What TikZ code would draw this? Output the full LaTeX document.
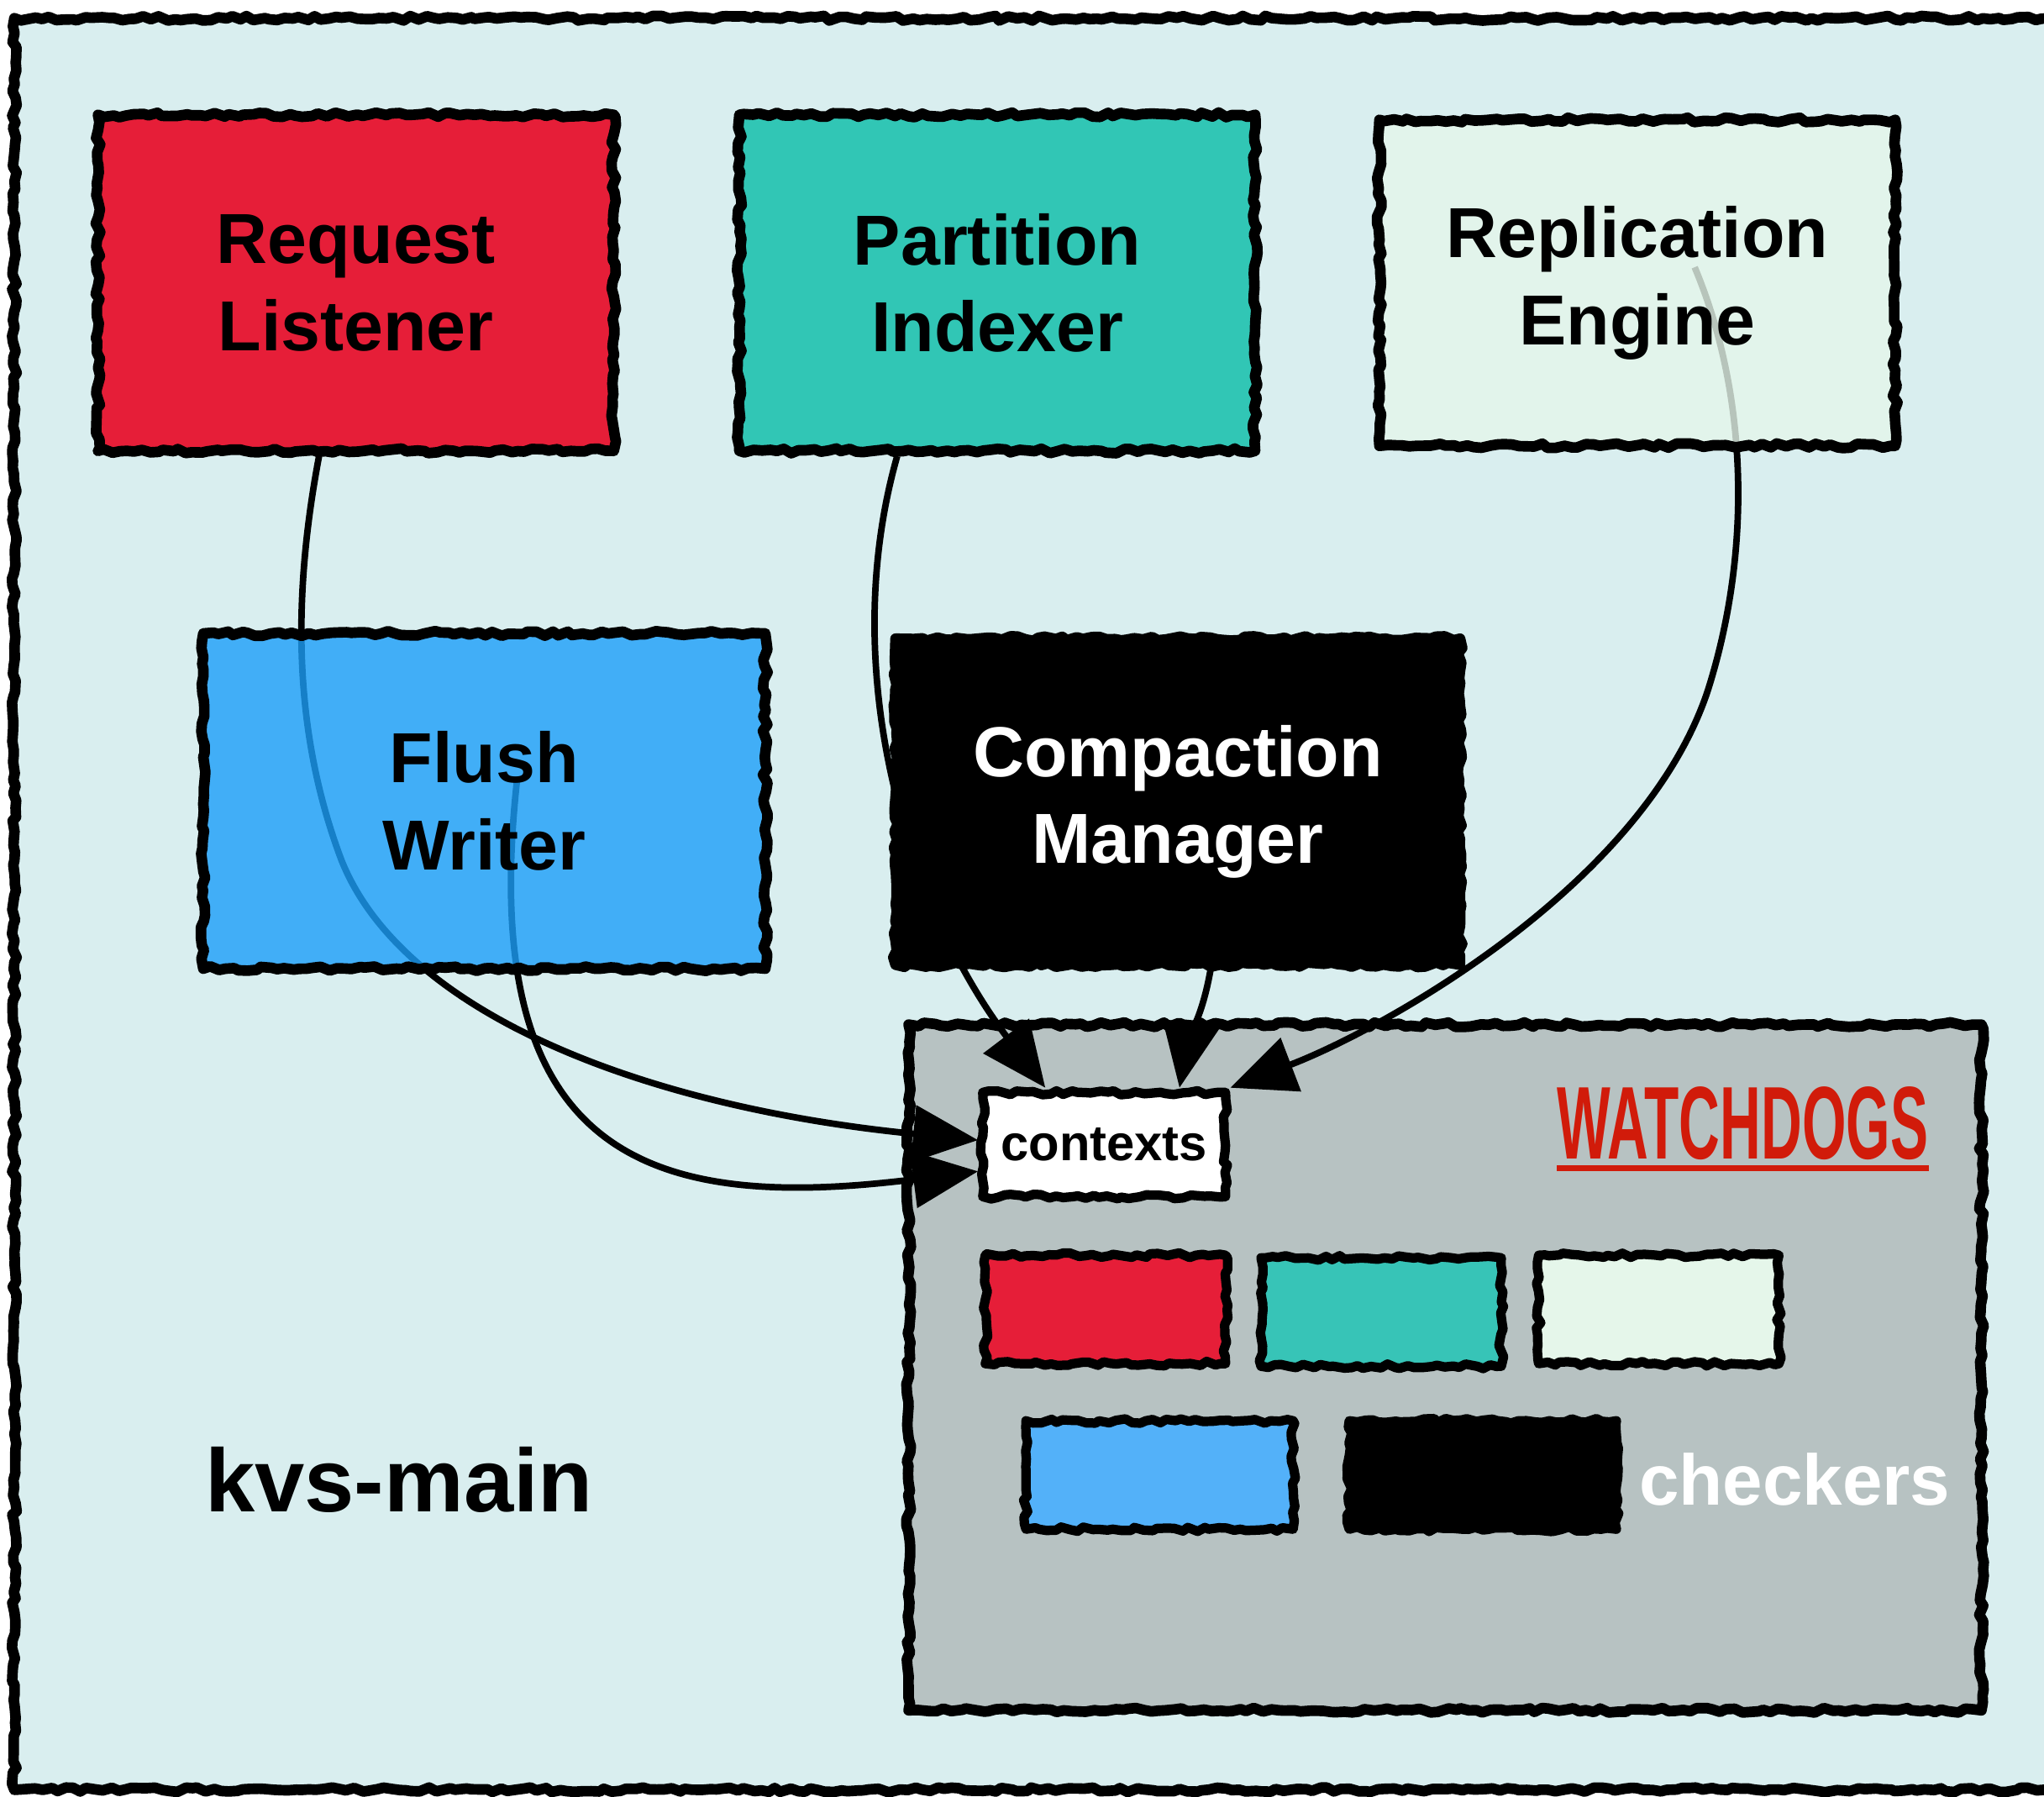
\documentclass[tikz,border=0pt]{standalone}
\usepackage{fontspec}
\usepackage{graphicx}
\setmainfont{Liberation Sans}
\usetikzlibrary{arrows.meta, decorations.pathmorphing, positioning, calc}
\definecolor{bgcyan}{RGB}{217,238,239}
\definecolor{panelgray}{RGB}{183,194,194}
\definecolor{reqred}{RGB}{230,30,56}
\definecolor{partteal}{RGB}{49,198,181}
\definecolor{replpale}{RGB}{229,246,234}
\definecolor{flushblueT}{RGB}{28,159,249}
\definecolor{wdred}{RGB}{209,27,10}
\definecolor{chkteal}{RGB}{55,196,183}
\definecolor{chkblue}{RGB}{83,177,249}
\pgfdeclarelayer{back}
\pgfdeclarelayer{wires}
\pgfsetlayers{back,wires,main}
\tikzset{
  rough/.style={decorate, line join=round,
    decoration={random steps, segment length=2.5pt, amplitude=0.8pt}},
  compbox/.style={
    rectangle, draw=black, line width=3.6pt, rough, align=center, inner sep=0pt,
    minimum width=6.14cm, minimum height=4cm, font=\fontsize{24}{29.5}\selectfont\bfseries
  },
  seethru/.style={fill opacity=0.8, text opacity=1},
  chkbox/.style={rectangle, draw=black, line width=3.2pt, rough, inner sep=0pt,
    minimum width=2.86cm, minimum height=1.29cm},
  wire/.style={-{Triangle[length=22pt, width=19pt]}, line width=2.2pt, black}
}

\begin{document}
\begin{tikzpicture}[x=0.015517cm, y=-0.015517cm]
    \pgfmathsetseed{42}
    \useasboundingbox (0,0) rectangle (1568,1378);
    \clip (0,0) rectangle (1568,1378);
    \begin{pgfonlayer}{back}
    \fill[white] (0,0) rectangle (1568,1378);
    \draw[rough, line width=3.6pt, fill=bgcyan] (11,14) rectangle (1600,1373);
    \draw[rough, line width=3.6pt, fill=panelgray] (697,786) rectangle (1520,1312);
    \node[chkbox, fill=white, minimum width=2.89cm, minimum height=1.24cm,
      font=\fontsize{17}{20}\selectfont\bfseries] (ctx) at (847,878) {contexts};
    \node[text=wdred, inner sep=0pt, font=\fontsize{34}{34}\selectfont\bfseries] (wd) at (1337,862) {\scalebox{0.565}[1.03]{WATCHDOGS}};
    \draw[wdred, line width=1.8pt] ([yshift=-2.5pt]wd.south west) -- ([yshift=-2.5pt]wd.south east);
    % checkers
    \node[chkbox, fill=reqred] (wdrl) at (848,1004.5) {};
    \node[chkbox, fill=chkteal] (wdpi) at (1059.5,1006.5) {};
    \node[chkbox, fill=replpale] (wdre) at (1272.5,1004.5) {};
    \node[chkbox, fill=chkblue, minimum width=3.18cm] (wdfw) at (889.5,1131.5) {};
    \node[chkbox, fill=black, minimum width=3.18cm] (wdcm) at (1137.5,1131.5) {};
    \node[anchor=west, inner sep=0pt, text=white, font=\fontsize{24.3}{24}\selectfont\bfseries] (chk) at (1257,1135) {checkers};
    \node[anchor=west, inner sep=0pt, font=\fontsize{30.3}{30}\selectfont\bfseries] (kvs) at (157,1135) {kvs-main};
    \end{pgfonlayer}

    \node[compbox, fill=reqred] (rl) at (273,217) {Request\\Listener};
    \node[compbox, fill=partteal] (pi) at (765,217) {Partition\\Indexer};
    \node[compbox, seethru, fill=replpale, minimum height=3.88cm] (re) at (1256,217) {Replication\\Engine};
    \node[compbox, seethru, fill=flushblueT, minimum width=6.69cm, minimum height=3.99cm] (fw) at (371.5,614.5) {Flush\\Writer};
    \node[compbox, fill=black, text=white, minimum width=6.72cm, minimum height=3.88cm] (cm) at (903.5,615) {Compaction\\Manager};

    \begin{pgfonlayer}{wires}
    \draw[wire] (rl.258) .. controls (222,470) and (228,570) .. (262,660)
      .. controls (310,780) and (500,850) .. (ctx.178);
    \draw[wire] ([shift={(25,-15)}]fw.center) .. controls (365,890) and (500,930) .. (ctx.192);
    \draw[wire] (pi.240) .. controls (640,520) and (700,700) .. (ctx.136);
    \draw[wire] (cm.281) to[out=-100, in=80] (ctx.37);
    \draw[wire] ([shift={(44,-12)}]re.center) .. controls (1340,300) and (1345,420) .. (1310,530)
      .. controls (1260,680) and (1060,790) .. (ctx.north east);
    \end{pgfonlayer}
\end{tikzpicture}
\end{document}
